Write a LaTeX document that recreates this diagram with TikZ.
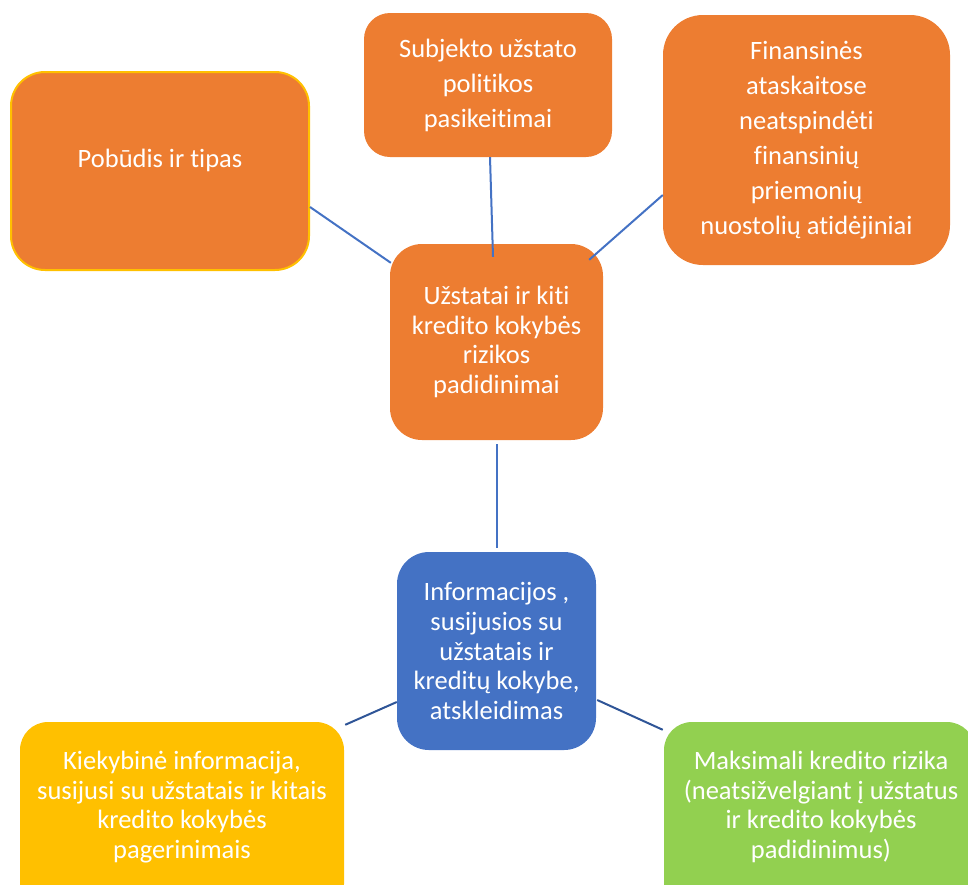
\documentclass[tikz,border=0pt]{standalone}
\usepackage{fontspec}
\setmainfont{Carlito}[Ligatures={NoCommon}]
\usetikzlibrary{calc}
\definecolor{orng}{HTML}{ED7D31}
\definecolor{gold}{HTML}{FFC000}
\definecolor{blu}{HTML}{4472C4}
\definecolor{grn}{HTML}{92D050}
\definecolor{dkblu}{HTML}{2F5597}
\begin{document}
\begin{tikzpicture}[x=1pt,y=-1pt,
  box/.style={inner sep=0pt, text=white, align=center},
  wide/.style={font=\fontsize{26.5}{35}\selectfont},
  tight/.style={font=\fontsize{26.5}{29.6}\selectfont},
  uplink/.style={draw=blu, line width=2pt},
  downlink/.style={draw=dkblu, line width=2pt}]
\useasboundingbox (0,0) rectangle (968,884);
\clip (0,0) rectangle (968,884);

% outer ring of topics
\node[box, fill=orng, draw=gold, line width=2pt, rounded corners=34pt,
  minimum width=298pt, minimum height=198pt] (pob) at (160,171) {};
\node[box, wide] (pobtxt) at (160,160) {Pobūdis ir tipas};

\node[box, wide, fill=orng, rounded corners=26pt,
  minimum width=248pt, minimum height=144pt] (subj) at (488,85)
  {Subjekto užstato\\politikos\\pasikeitimai};

\node[box, wide, fill=orng, rounded corners=40pt,
  minimum width=287pt, minimum height=250pt] (fin) at (806.5,140)
  {Finansinės\\ataskaitose\\neatspindėti\\finansinių\\priemonių\\nuostolių atidėjiniai};

% central topic
\node[box, tight, fill=orng, rounded corners=32pt,
  minimum width=213pt, minimum height=196pt] (uzst) at (496.5,342)
  {Užstatai ir kiti\\kredito kokybės\\rizikos\\padidinimai};

% disclosure hub
\node[box, tight, fill=blu, rounded corners=32pt,
  minimum width=199pt, minimum height=198pt] (info) at (496.5,651)
  {Informacijos ,\\susijusios su\\užstatais ir\\kreditų kokybe,\\atskleidimas};

\node[box, fill=gold, rounded corners=28pt,
  minimum width=324pt, minimum height=190pt] (kiek) at (182,817) {};
\node[box, tight] (kiektxt) at (182,807)
  {Kiekybinė informacija,\\susijusi su užstatais ir kitais\\kredito kokybės\\pagerinimais};

\node[box, fill=grn, rounded corners=28pt,
  minimum width=311pt, minimum height=190pt] (maks) at (819.5,817) {};
\node[box, tight] (makstxt) at (821,807)
  {Maksimali kredito rizika\\(neatsižvelgiant į užstatus\\ir kredito kokybės\\padidinimus)};

% connectors
\coordinate (u1) at ($(uzst.north west)+(1,19)$);
\coordinate (u2) at ($(uzst.north)+(-3.5,13)$);
\coordinate (u3) at ($(uzst.north east)+(-14,16)$);
\draw[uplink] ($(pob.east)+(0,36)$) -- (u1);
\draw[uplink] ($(subj.south)+(2,0)$) -- (u2);
\draw[uplink] ($(fin.west)+(0,55)$) -- (u3);
\draw[uplink] ($(uzst.south)+(0,4)$) -- ($(info.north)+(0,-4)$);
\draw[downlink] ($(info.west)+(0,51)$) -- ($(kiek.north east)+(1,3)$);
\draw[downlink] ($(info.east)+(1,49)$) -- ($(maks.north west)+(-1,8)$);
\end{tikzpicture}
\end{document}
